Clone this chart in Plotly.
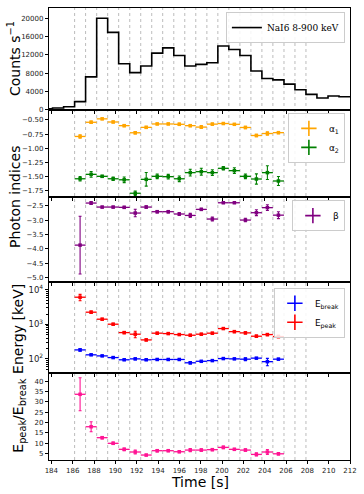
import plotly.graph_objects as go
from plotly.subplots import make_subplots

# ---------------------------------------------------------------------------
# Data
# ---------------------------------------------------------------------------

# edges of the spectral time intervals (dotted guides)
EDGES = [186.18, 187.21, 188.25, 189.28, 190.31, 191.35, 192.38, 193.41, 194.44,
         195.48, 196.51, 197.54, 198.58, 199.61, 200.64, 201.68, 202.71, 203.74,
         204.77, 205.81, 206.84, 207.87]

# NaI6 8-900 keV light curve (bin edges + rates)
LC_EDGES = [183.08, 184.11, 185.15] + EDGES + [208.90, 209.94, 210.97, 212.00]
LC_RATE = [150, 350, 600, 1740, 7180, 20080, 16970, 10080, 8120, 9570, 12400,
           13560, 11890, 9570, 9930, 10300, 13990, 13200, 11890, 8480, 6815,
           6525, 5580, 4350, 3335, 2540, 2970, 2830]

# spectral fit results, one per interval (19 intervals)
ALPHA1 = [-0.79, -0.54, -0.48, -0.535, -0.60, -0.725, -0.63, -0.57, -0.57, -0.576,
          -0.60, -0.625, -0.573, -0.562, -0.576, -0.632, -0.773, -0.738, -0.723]
ALPHA1_ERR = [0.03, 0.02, 0.015, 0.015, 0.02, 0.02, 0.02, 0.015, 0.015, 0.02,
              0.02, 0.025, 0.02, 0.015, 0.015, 0.02, 0.02, 0.03, 0.02]
ALPHA2 = [-1.535, -1.457, -1.492, -1.535, -1.553, -1.79, -1.545, -1.492, -1.498,
          -1.535, -1.427, -1.41, -1.427, -1.351, -1.392, -1.492, -1.539, -1.427, -1.574]
ALPHA2_ERR = [0.04, 0.05, 0.02, 0.03, 0.05, 0.04, 0.12, 0.04, 0.04, 0.05, 0.06,
              0.06, 0.05, 0.03, 0.05, 0.04, 0.09, 0.12, 0.08]
BETA = [-3.87, -2.41, -2.549, -2.549, -2.56, -2.757, -2.549, -2.71, -2.71, -2.79,
        -2.84, -2.63, -2.965, -2.40, -2.40, -3.0, -2.745, -2.57, -2.83]
BETA_ERR = [1.0, 0.05, 0.03, 0.03, 0.04, 0.13, 0.04, 0.04, 0.04, 0.05, 0.07,
            0.04, 0.07, 0.02, 0.02, 0.06, 0.1, 0.1, 0.12]
EPEAK = [6150, 2260, 1415, 1013, 578, 520, 355, 556, 541, 507, 485, 520, 556,
         757, 617, 568, 454, 507, 444]
EPEAK_ERR = [1300, 180, 90, 60, 40, 110, 25, 35, 30, 30, 30, 35, 35, 45, 40, 40,
             35, 40, 35]
EBREAK = [182, 131, 122, 109, 94, 100, 94, 96, 96, 96, 77, 85, 89, 102, 100, 98,
          105, 83, 98]
EBREAK_ERR = [15, 6, 5, 5, 4, 5, 4, 4, 4, 4, 6, 5, 4, 5, 4, 10, 5, 20, 5]
RATIO = [33.6, 17.9, 12.6, 9.87, 6.96, 5.67, 4.2, 6.3, 6.3, 5.8, 6.6, 6.6, 6.8,
         7.9, 6.96, 6.6, 4.5, 5.67, 4.8]
RATIO_ERR = [8, 2.4, 0.6, 0.6, 0.6, 1.0, 0.4, 0.6, 0.5, 0.5, 0.8, 0.6, 0.5, 0.6,
             0.5, 0.6, 0.8, 1.2, 0.6]

X_TICKS = [184, 186, 188, 190, 192, 194, 196, 198, 200, 202, 204, 206, 208, 210, 212]

# ---------------------------------------------------------------------------

N = len(ALPHA1)
T_MID = [(a + b) / 2 for a, b in zip(EDGES[:N], EDGES[1:N + 1])]
T_HALF = [(b - a) / 2 for a, b in zip(EDGES[:N], EDGES[1:N + 1])]

_FONT = "DejaVu Sans"
_TICKFONT = dict(family=_FONT, size=7, color="#222")

fig = make_subplots(rows=5, cols=1, shared_xaxes=True, vertical_spacing=0,
                    row_heights=[102, 87, 85, 91, 87])

# light curve as a step line
fig.add_trace(go.Scatter(
    x=LC_EDGES, y=LC_RATE + [LC_RATE[-1]],
    mode="lines", line=dict(color="black", width=1.6, shape="hv"),
    name="NaI6 8-900 keV", legend="legend",
), row=1, col=1)


def errpoints(y, err, color, name, row, legend):
    fig.add_trace(go.Scatter(
        x=T_MID, y=y, mode="markers",
        marker=dict(symbol="square", size=3.5, color=color),
        error_x=dict(type="data", array=T_HALF, color=color, thickness=1.3, width=0),
        error_y=dict(type="data", array=err, color=color, thickness=1.1, width=1.5),
        showlegend=False, name=name,
    ), row=row, col=1)
    # legend-only entry drawn like an errorbar cross
    fig.add_trace(go.Scatter(
        x=[None], y=[None], mode="markers",
        marker=dict(symbol="cross-thin-open", size=11, color=color,
                    line=dict(color=color, width=1.6)),
        name=name, legend=legend,
    ), row=row, col=1)


errpoints(ALPHA1, ALPHA1_ERR, "orange", "α<sub>1</sub>", 2, "legend2")
errpoints(ALPHA2, ALPHA2_ERR, "green", "α<sub>2</sub>", 2, "legend2")
errpoints(BETA, BETA_ERR, "purple", "β", 3, "legend3")
errpoints(EBREAK, EBREAK_ERR, "blue", "E<sub>break</sub>", 4, "legend4")
errpoints(EPEAK, EPEAK_ERR, "red", "E<sub>peak</sub>", 4, "legend4")
errpoints(RATIO, RATIO_ERR, "deeppink", "ratio", 5, "legend5")

# dotted guides at the interval edges, through every panel
for e in EDGES:
    fig.add_shape(type="line", xref="x", yref="paper", x0=e, x1=e, y0=0, y1=1,
                  line=dict(color="#b4b4b4", width=0.9, dash="dot"), layer="below")

axis_common = dict(showline=True, linecolor="black", linewidth=1.3, mirror=True,
                   ticks="outside", ticklen=3, tickwidth=0.8, tickcolor="black",
                   showgrid=False, zeroline=False, tickfont=_TICKFONT)

for r in range(1, 6):
    fig.update_xaxes(range=[183.78, 212.0], tickvals=X_TICKS,
                     showticklabels=(r == 5), **axis_common, row=r, col=1)

fig.update_yaxes(range=[-100, 22330], tickvals=[0, 4000, 8000, 12000, 16000, 20000],
                 tickformat="d", **axis_common, row=1, col=1)
fig.update_yaxes(range=[-1.856, -0.324], tickvals=[-0.5, -0.75, -1.0, -1.25, -1.5, -1.75],
                 tickformat=".2f", **axis_common, row=2, col=1)
fig.update_yaxes(range=[-5.15, -2.2], tickvals=[-2.5, -3.0, -3.5, -4.0, -4.5, -5.0],
                 tickformat=".1f", **axis_common, row=3, col=1)
log_axis = dict(axis_common, tickfont=dict(family=_FONT, size=8.5, color="#222"))
fig.update_yaxes(type="log", range=[1.59, 4.23], tickvals=[100, 1000, 10000],
                 ticktext=["10<sup>2</sup>", "10<sup>3</sup>", "10<sup>4</sup>"],
                 minor=dict(ticks="outside", ticklen=1.8, tickcolor="black",
                            tickvals=[50, 60, 70, 80, 90, 200, 300, 400, 500, 600, 700,
                                      800, 900, 2000, 3000, 4000, 5000, 6000, 7000,
                                      8000, 9000]),
                 **log_axis, row=4, col=1)
fig.update_yaxes(range=[1.8, 43.9], tickvals=[5, 10, 15, 20, 25, 30, 35, 40],
                 **axis_common, row=5, col=1)

_LEG = dict(bgcolor="rgba(255,255,255,0.85)", bordercolor="#cccccc", borderwidth=1,
            xanchor="right", yanchor="top", x=0.983, tracegroupgap=0,
            font=dict(family=_FONT, size=9, color="black"))

fig.update_layout(
    width=364, height=494,
    paper_bgcolor="white", plot_bgcolor="white",
    margin=dict(l=49, r=14, t=8, b=34),
    font=dict(family=_FONT, color="black"),
    legend=dict(_LEG, y=0.991, font=dict(family="DejaVu Serif", size=9, color="black")),
    legend2=dict(_LEG, y=0.768),
    legend3=dict(_LEG, y=0.575),
    legend4=dict(_LEG, y=0.381),
    legend5=dict(visible=False),
)

# axis titles
titles = [
    ("Counts s<sup>−1</sup>", 0.887, -35),
    ("Photon indices", 0.582, -34),
    ("Energy [keV]", 0.290, -31),
    ("E<sub>peak</sub>/E<sub>break</sub>", 0.098, -30),
]
for text, y, dx in titles:
    fig.add_annotation(text=text, xref="paper", yref="paper", x=0, y=y,
                       xanchor="center", yanchor="middle", xshift=dx, textangle=-90,
                       showarrow=False, font=dict(family=_FONT, size=14, color="black"))
fig.add_annotation(text="Time [s]", xref="paper", yref="paper", x=0.5, y=0,
                   xanchor="center", yanchor="top", yshift=-12, showarrow=False,
                   font=dict(family=_FONT, size=14, color="black"))

# drop the browser's default body margin so the figure sits at the page corner
fig.write_html("out.html", config={"displayModeBar": False},
               post_script="document.body.style.margin='0';")
